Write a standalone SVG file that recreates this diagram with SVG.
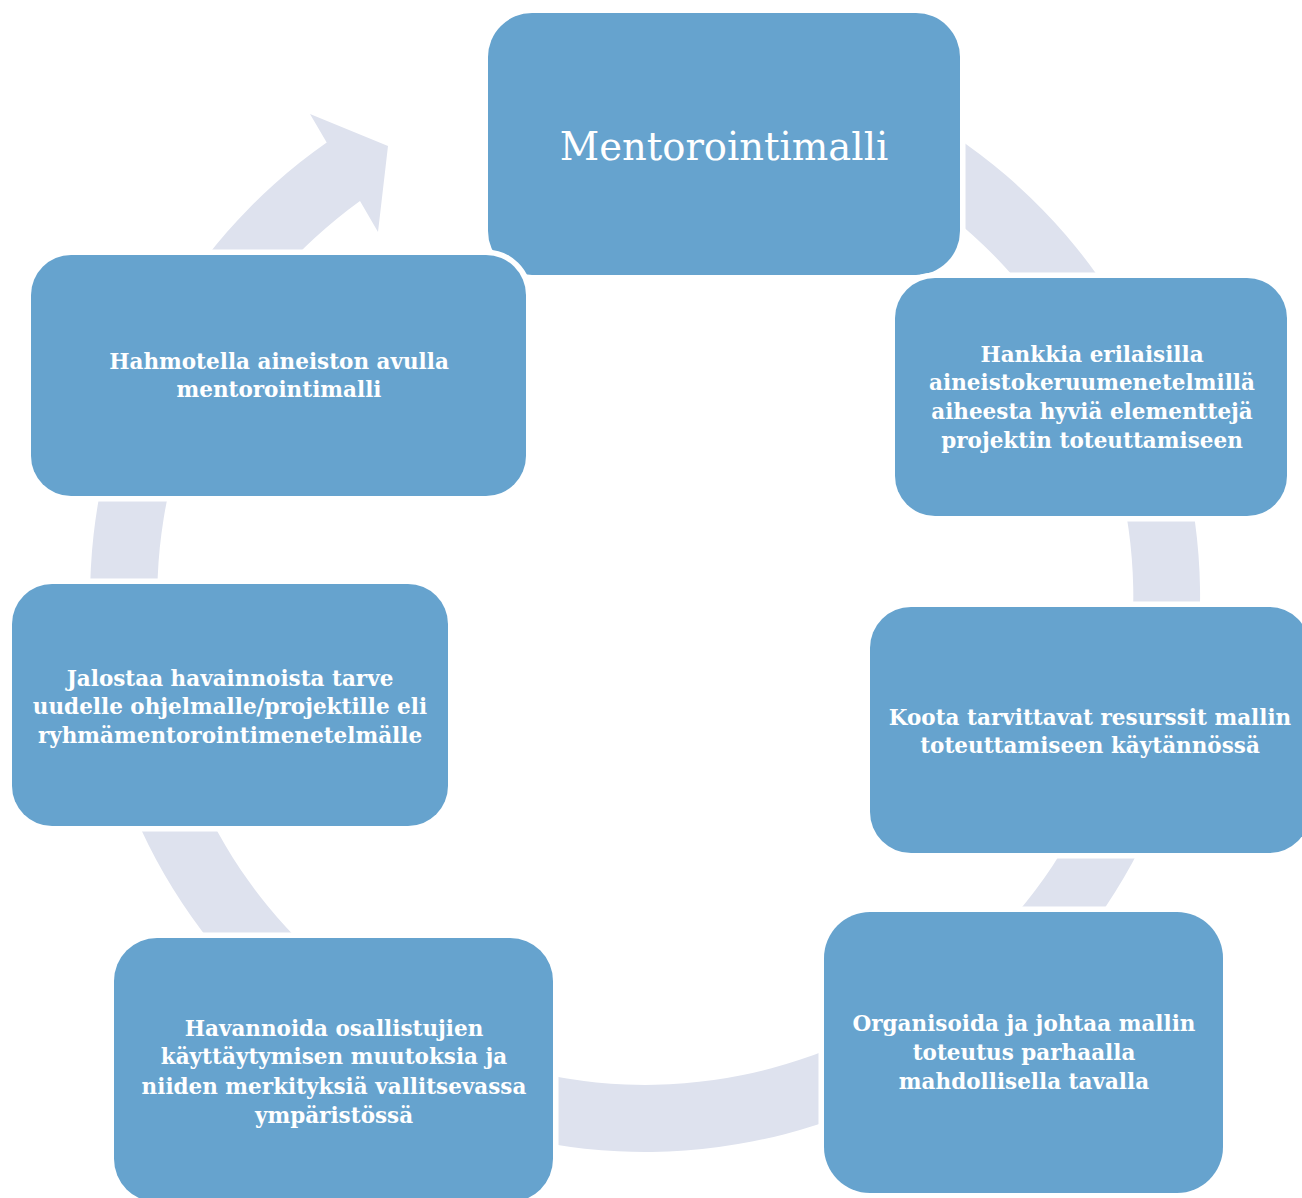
<svg xmlns="http://www.w3.org/2000/svg" width="1302" height="1198" viewBox="0 0 1302 1198">
  <style>
    .box { fill: #66A3CE; stroke: #FFFFFF; stroke-width: 11; paint-order: stroke; }
    .lbl { font-family: "DejaVu Serif", "Liberation Serif", serif; font-weight: bold; font-size: 21.5px; fill: #FFFFFF; text-anchor: middle; }
    .title { font-family: "DejaVu Serif", "Liberation Serif", serif; font-size: 38.5px; fill: #FFFFFF; text-anchor: middle; }
    .ring { fill: #DEE2EE; }
  </style>
  <rect width="1302" height="1198" fill="#FFFFFF"/>
  <g id="connectors">
    <path class="ring" d="M 567.8 47.4 A 555 555 0 1 1 326.7 142.4 L 310 114 L 388 146 L 378 232 L 360 201 A 488 488 0 1 0 577.1 113.7 Z"/>
  </g>
  <g id="node-mentorointimalli">
    <rect class="box" x="488" y="13" width="472" height="262" rx="44" ry="44"/>
    <text class="title" x="724" y="160">Mentorointimalli</text>
  </g>
  <g id="node-hankkia">
    <rect class="box" x="895" y="278" width="392" height="238" rx="40" ry="40"/>
    <text class="lbl" x="1092" y="362">Hankkia erilaisilla</text>
    <text class="lbl" x="1092" y="390">aineistokeruumenetelmillä</text>
    <text class="lbl" x="1092" y="419">aiheesta hyviä elementtejä</text>
    <text class="lbl" x="1092" y="448">projektin toteuttamiseen</text>
  </g>
  <g id="node-koota">
    <rect class="box" x="870" y="607" width="440" height="246" rx="41" ry="41"/>
    <text class="lbl" x="1090" y="725">Koota tarvittavat resurssit mallin</text>
    <text class="lbl" x="1090" y="753">toteuttamiseen käytännössä</text>
  </g>
  <g id="node-organisoida">
    <rect class="box" x="824" y="912" width="399" height="281" rx="46" ry="46"/>
    <text class="lbl" x="1024" y="1031">Organisoida ja johtaa mallin</text>
    <text class="lbl" x="1024" y="1060">toteutus parhaalla</text>
    <text class="lbl" x="1024" y="1089">mahdollisella tavalla</text>
  </g>
  <g id="node-havannoida">
    <rect class="box" x="114" y="938" width="439" height="264" rx="43" ry="43"/>
    <text class="lbl" x="334" y="1036">Havannoida osallistujien</text>
    <text class="lbl" x="334" y="1064">käyttäytymisen muutoksia ja</text>
    <text class="lbl" x="334" y="1094">niiden merkityksiä vallitsevassa</text>
    <text class="lbl" x="334" y="1123">ympäristössä</text>
  </g>
  <g id="node-jalostaa">
    <rect class="box" x="12" y="584" width="436" height="242" rx="40" ry="40"/>
    <text class="lbl" x="230" y="686">Jalostaa havainnoista tarve</text>
    <text class="lbl" x="230" y="714">uudelle ohjelmalle/projektille eli</text>
    <text class="lbl" x="230" y="743">ryhmämentorointimenetelmälle</text>
  </g>
  <g id="node-hahmotella">
    <rect class="box" x="31" y="255" width="495" height="241" rx="40" ry="40"/>
    <text class="lbl" x="279" y="369">Hahmotella aineiston avulla</text>
    <text class="lbl" x="279" y="397">mentorointimalli</text>
  </g>
</svg>
